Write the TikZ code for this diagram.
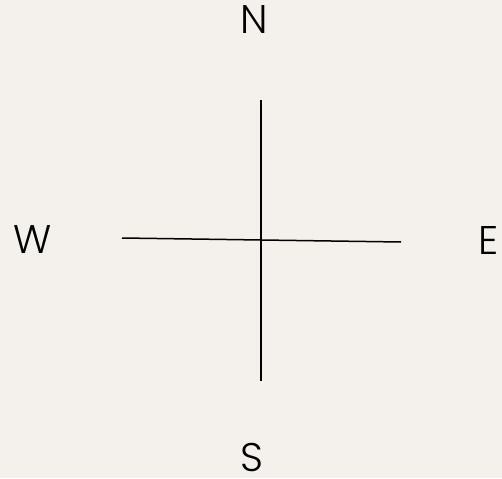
\documentclass[tikz,border=0pt]{standalone}
\usepackage{fontspec}
\setmainfont{Poppins}[UprightFont=* Light]
\definecolor{bgc}{HTML}{F4F1EC}
\begin{document}
\begin{tikzpicture}[x=1pt,y=-1pt,
  lab/.style={font=\fontsize{40}{44}\selectfont, text=black, inner sep=0pt, anchor=center},
  axis/.style={draw=black, line width=1.5pt}]
\fill[bgc] (0,0) rectangle (502,478);
\useasboundingbox (0,0) rectangle (502,478);
\node[lab] (n) at (254.5,20) {N};
\node[lab] (w) at (32.5,240) {W};
\node[lab] (e) at (489,240) {E};
\node[lab] (s) at (252,457) {S};
\coordinate (top) at (261,100);
\coordinate (bot) at (261,381);
\coordinate (left) at (122,238);
\coordinate (right) at (401,242);
\draw[axis] (top) -- (bot);
\draw[axis] (left) -- (right);
\end{tikzpicture}
\end{document}
